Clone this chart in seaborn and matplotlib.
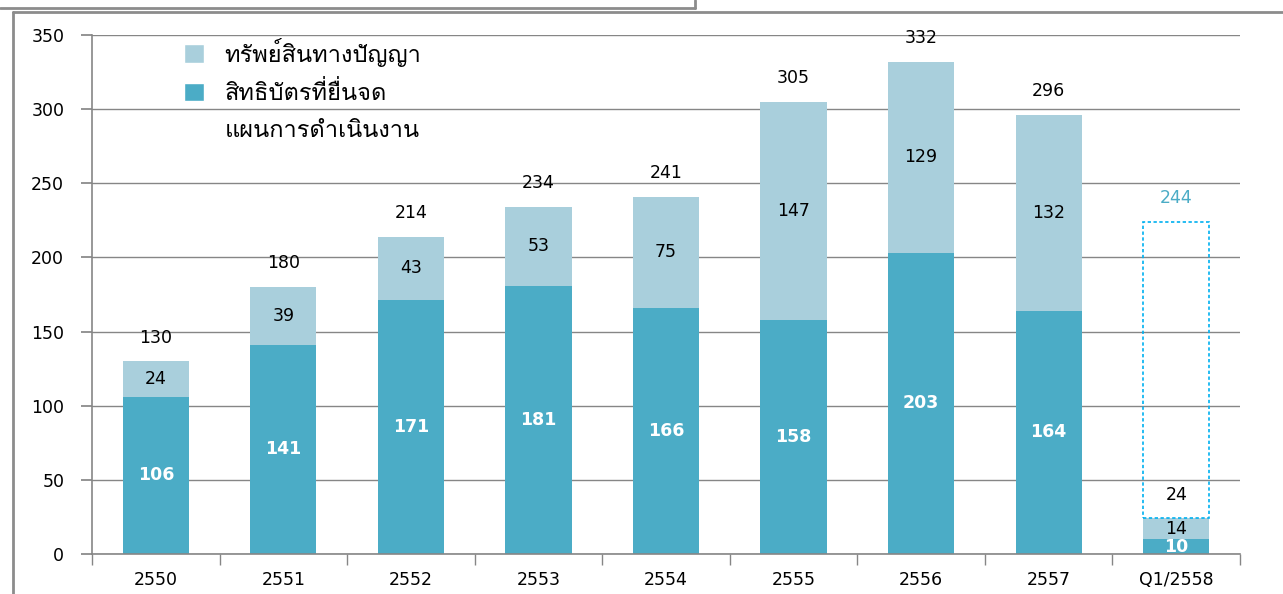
import matplotlib
matplotlib.use("Agg")
import matplotlib.pyplot as plt
import numpy as np
import pandas as pd
import seaborn as sns
from matplotlib.patches import Patch

years = ["2550", "2551", "2552", "2553", "2554", "2555", "2556", "2557", "Q1/2558"]
patents = [106, 141, 171, 181, 166, 158, 203, 164, 10]
ip_assets = [24, 39, 43, 53, 75, 147, 129, 132, 14]
plan_box = [0, 0, 0, 0, 0, 0, 0, 0, 200]
plan_label = 244
legend_labels = ["ทรัพย์สินทางปัญญา", "สิทธิบัตรที่ยื่นจด", "แผนการดำเนินงาน"]

sns.set_theme(style="white")
plt.rcParams["font.family"] = ["Loma", "Noto Sans Thai Looped", "DejaVu Sans"]
plt.rcParams["text.color"] = "black"

totals = [p + i for p, i in zip(patents, ip_assets)]
df = pd.DataFrame({"year": years, "patents": patents, "total": totals})

light = "#A9CFDC"
teal = "#4BACC6"
grid_c = "#868686"
num_font = "DejaVu Sans"

fig = plt.figure(figsize=(12.83, 5.94), dpi=100)
ax = fig.add_axes([0.0717, 0.0673, 0.8948, 0.874])

sns.barplot(data=df, x="year", y="total", color=light, width=0.52, saturation=1,
            linewidth=0, ax=ax)
sns.barplot(data=df, x="year", y="patents", color=teal, width=0.52, saturation=1,
            linewidth=0, ax=ax)

# planned target box (only where a plan exists)
x = np.arange(len(years))
has_plan = np.array(plan_box) > 0
ax.bar(x[has_plan], np.array(plan_box)[has_plan], bottom=np.array(totals)[has_plan],
       width=0.52, fill=False, edgecolor="#00B0F0", linestyle=(0, (2, 1.5)), linewidth=1.2)

for i in range(len(years)):
    ax.text(i, patents[i] / 2, str(patents[i]), ha="center", va="center",
            color="white", fontweight="bold", fontsize=12.5, family=num_font)
    ax.text(i, patents[i] + ip_assets[i] / 2, str(ip_assets[i]), ha="center", va="center",
            color="black", fontsize=12.5, family=num_font)
    ax.annotate(str(totals[i]), (i, totals[i]), xytext=(0, 17), textcoords="offset points",
                ha="center", va="center", fontsize=12.5, color="black", family=num_font)
ax.annotate(str(plan_label), (8, totals[8] + plan_box[8]), xytext=(0, 17),
            textcoords="offset points", ha="center", va="center", fontsize=12.5,
            color=teal, family=num_font)

ax.set_ylim(0, 350)
ax.set_xlim(-0.5, len(years) - 0.5)
ax.set_yticks(np.arange(0, 351, 50))
ax.yaxis.grid(True, color=grid_c, linewidth=1)
ax.set_axisbelow(True)
for s in ["top", "right"]:
    ax.spines[s].set_visible(False)
for s in ["left", "bottom"]:
    ax.spines[s].set_color(grid_c)
    ax.spines[s].set_linewidth(1.2)
ax.set_xlabel("")
ax.set_ylabel("")
ax.set_xticks(np.arange(-0.5, len(years), 1), minor=True)
ax.tick_params(axis="x", which="major", length=0, pad=12, labelsize=12.5, labelcolor="black")
ax.tick_params(axis="x", which="minor", length=8, color=grid_c, direction="out", bottom=True)
ax.tick_params(axis="y", length=8, color=grid_c, direction="out", labelsize=12.5, pad=12,
               left=True, labelcolor="black")
for lbl in ax.get_xticklabels() + ax.get_yticklabels():
    lbl.set_family(num_font)

handles = [Patch(facecolor=light), Patch(facecolor=teal), Patch(facecolor="none", edgecolor="none")]
leg = ax.legend(handles, legend_labels, loc="upper left", bbox_to_anchor=(0.062, 1.035),
                frameon=False, fontsize=17, handlelength=0.85, handleheight=0.85,
                handletextpad=0.85, labelspacing=0.6)
for t in leg.get_texts():
    t.set_color("black")

# outer frame lines
fig.add_artist(plt.Line2D([0, 0.542], [0.986, 0.986], color="#8C8C8C", lw=2, transform=fig.transFigure))
fig.add_artist(plt.Line2D([0.542, 0.542], [0.986, 1.0], color="#8C8C8C", lw=2, transform=fig.transFigure))
fig.add_artist(plt.Line2D([0.0101, 1.0], [0.98, 0.98], color="#8C8C8C", lw=2, transform=fig.transFigure))
fig.add_artist(plt.Line2D([0.0101, 0.0101], [0, 0.98], color="#8C8C8C", lw=2, transform=fig.transFigure))

fig.savefig("out.png", dpi=100)
